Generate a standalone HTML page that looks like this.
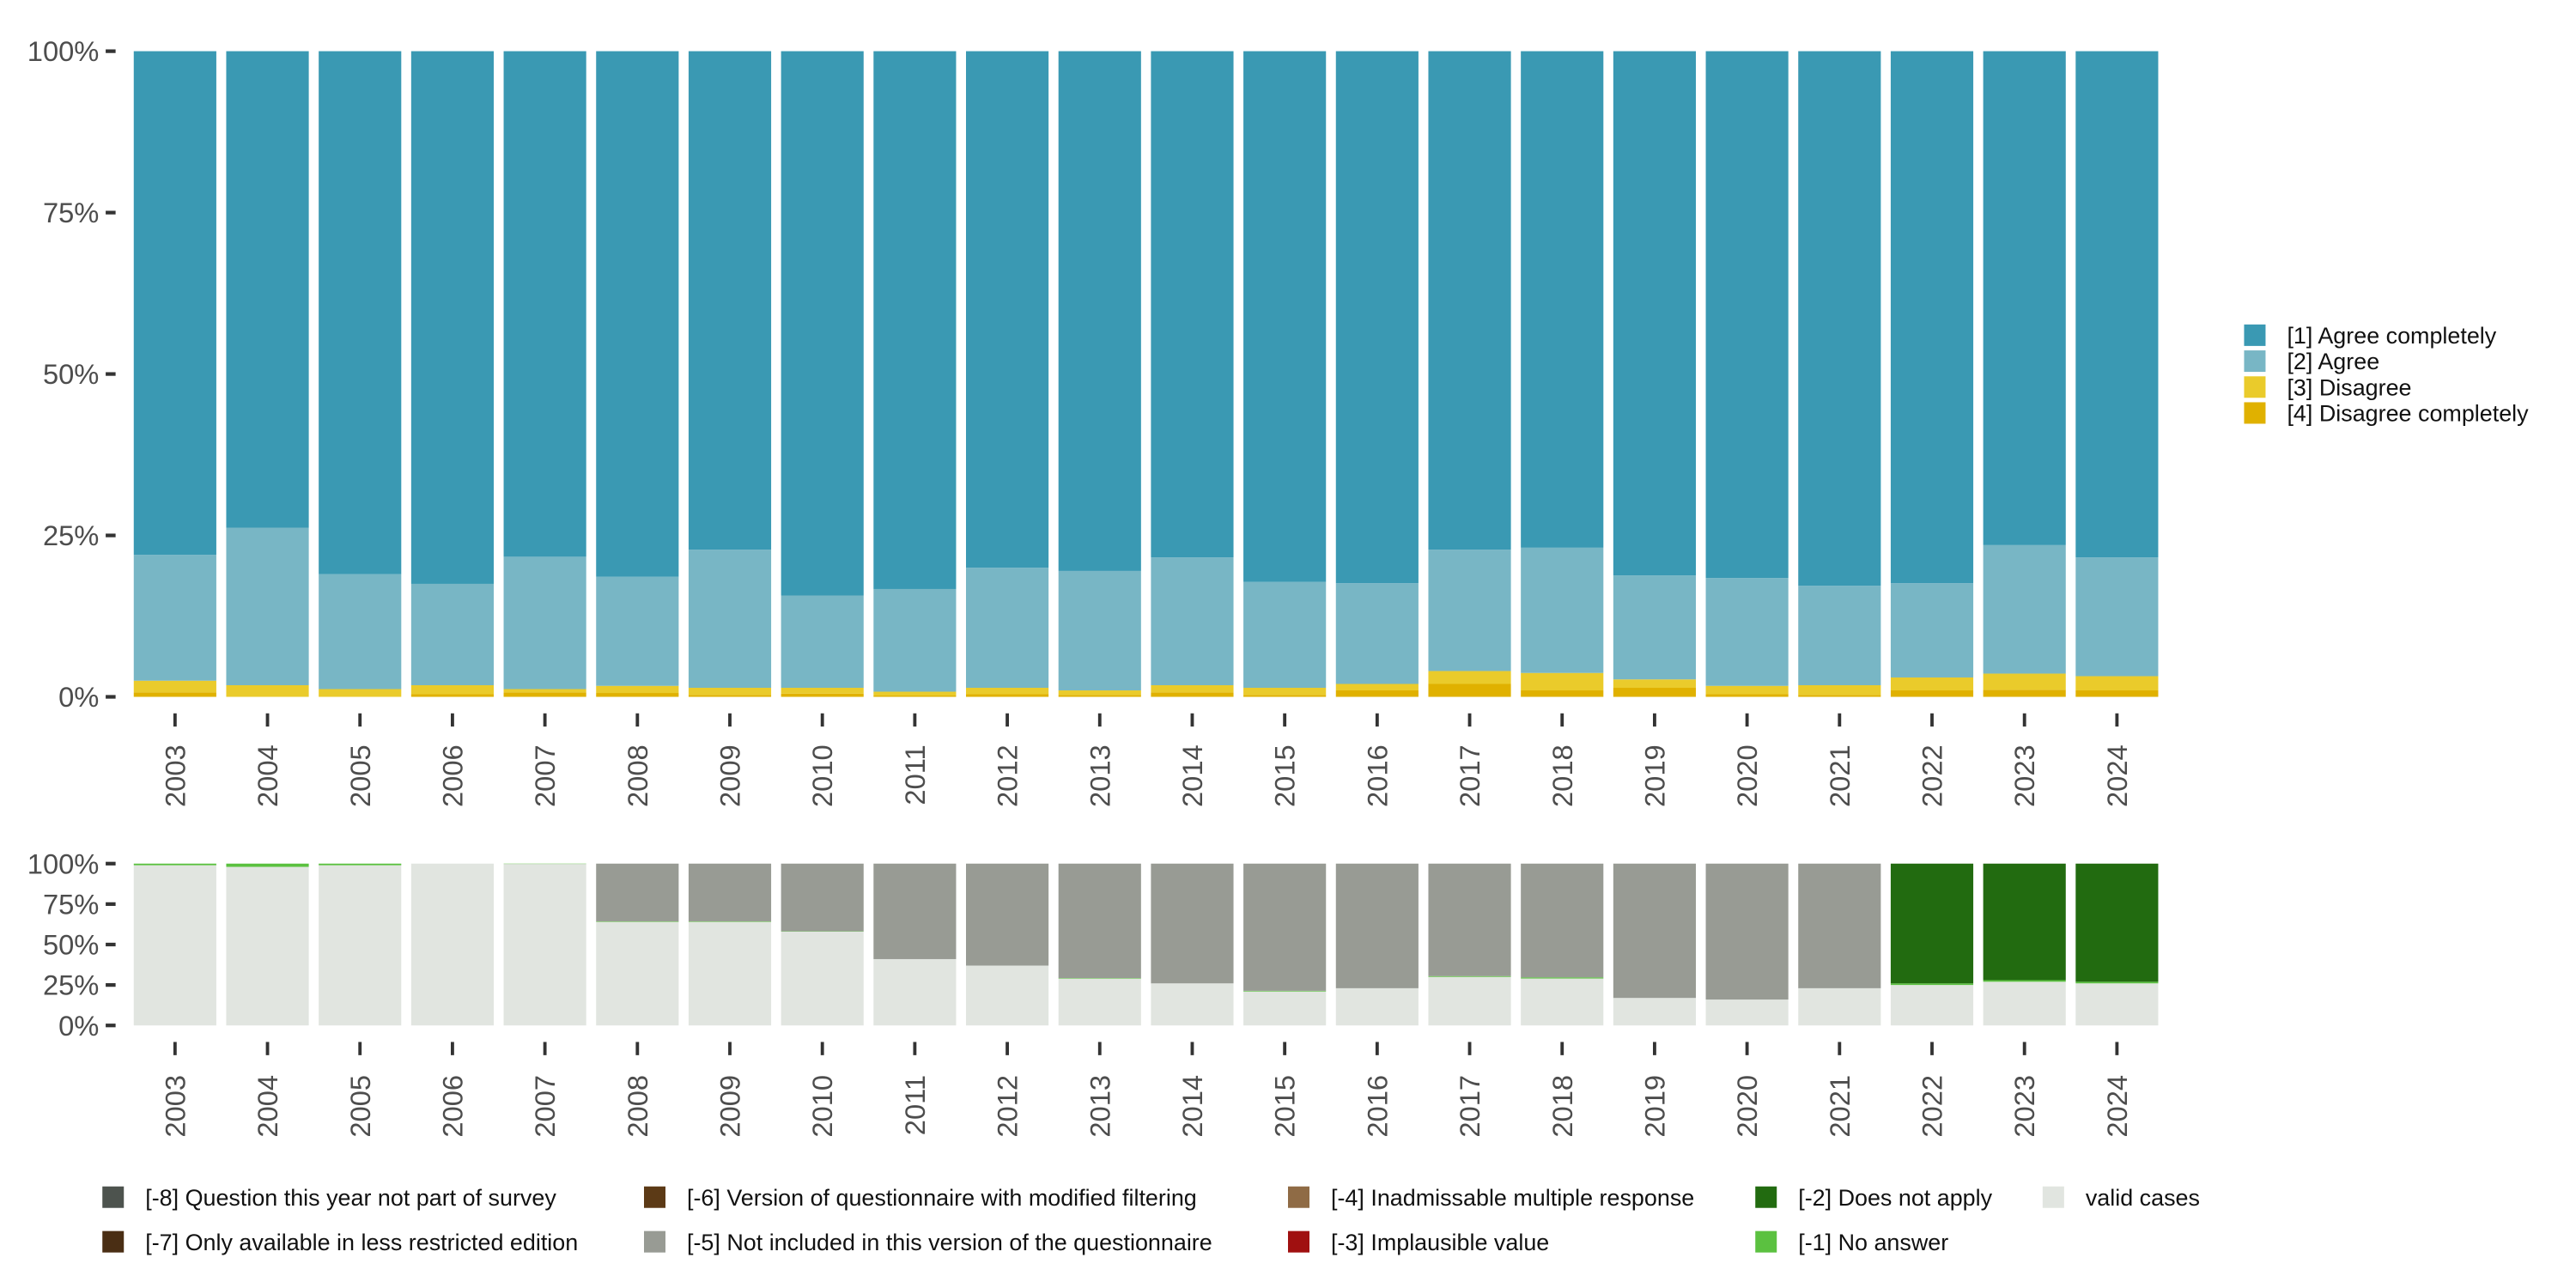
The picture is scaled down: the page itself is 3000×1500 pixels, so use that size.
<!DOCTYPE html>
<html><head><meta charset="utf-8"><style>
html,body{margin:0;padding:0;background:#fff}
svg{display:block}
text{font-family:"Liberation Sans","DejaVu Sans",sans-serif}
</style></head><body>
<svg id="chart" xmlns="http://www.w3.org/2000/svg" width="3000" height="1500" viewBox="0 0 1560 780">
<g id="topPanel"></g>
<g id="botPanel"></g>
<g id="legR"></g>
<g id="legB"></g>
</svg>
<script>
const years = ["2003","2004","2005","2006","2007","2008","2009","2010","2011","2012","2013","2014","2015","2016","2017","2018","2019","2020","2021","2022","2023","2024"];
// top panel (percent)
const disagreeCompletely = [0.7,0,0,0.4,0.7,0.6,0.3,0.5,0.2,0.4,0.3,0.7,0.3,1.0,2.0,1.0,1.4,0.4,0.3,1.0,1.1,1.0];
const disagreeTotal = [2.5,1.8,1.2,1.8,1.2,1.7,1.4,1.4,0.8,1.4,1.0,1.8,1.4,2.0,4.0,3.7,2.7,1.7,1.8,3.0,3.6,3.2];
const agreeTop = [22,26.2,19,17.5,21.7,18.6,22.8,15.7,16.7,20,19.5,21.6,17.8,17.6,22.8,23.1,18.8,18.4,17.2,17.6,23.5,21.6];
// bottom panel (percent)
const validCases = [99,98,99,100,99.8,64,64,58,41,37,29,26,21,23,30,29,17,16,23,25,27,26];
const noAnswer = [1,2,1,0,0.2,0.3,0.3,0.2,0,0,0.3,0,0.4,0,0.5,0.7,0,0,0,1,1,1];
const notIncluded = [0,0,0,0,0,1,1,1,1,1,1,1,1,1,1,1,1,1,1,0,0,0];
const yTicks = [0,25,50,75,100];
const yTickLabels = ["0%","25%","50%","75%","100%"];

const NS="http://www.w3.org/2000/svg";
function mk(tag,attrs,parent){const e=document.createElementNS(NS,tag);for(const k in attrs)e.setAttribute(k,attrs[k]);parent.appendChild(e);return e;}
const x0=81, step=56, bw=50;
const xPos=i=>x0+i*step;
const yTop=v=>422-v*(391/100);
const yBot=v=>621-v*(98/100);
const topG=document.getElementById('topPanel'), botG=document.getElementById('botPanel');

function axis(g,yf,yearY,tickY1,tickY2,pfx){
  yTicks.forEach((t,i)=>{
    const l=mk('line',{x1:64,x2:70,y1:yf(t),y2:yf(t),stroke:'#333','stroke-width':2.2},g);
    
    
    const tx=mk('text',{x:60,y:yf(t)+6,'text-anchor':'end','font-size':17,fill:'#4d4d4d'},g);
    tx.textContent=yTickLabels[i];
    
    
  });
  years.forEach((y,i)=>{
    const cx=xPos(i)+bw/2;
    const l=mk('line',{x1:cx,x2:cx,y1:tickY1,y2:tickY2,stroke:'#333','stroke-width':2},g);
    
    
    const tx=mk('text',{x:0,y:0,'text-anchor':'end','font-size':17,fill:'#4d4d4d',transform:`translate(${cx+6},${yearY}) rotate(-90)`},g);
    tx.textContent=y;
    
    
  });
}
function seg(g,i,yf,a,b,color,name){
  if(b-a<=0)return;
  const r=mk('rect',{x:xPos(i),y:yf(b),width:bw,height:yf(a)-yf(b),fill:color},g);
  
  
}
years.forEach((y,i)=>{
  seg(topG,i,yTop,0,disagreeCompletely[i],'#e0b100','bar-disagree-completely-'+y);
  seg(topG,i,yTop,disagreeCompletely[i],disagreeTotal[i],'#eacb2b','bar-disagree-'+y);
  seg(topG,i,yTop,disagreeTotal[i],agreeTop[i],'#78b6c5','bar-agree-'+y);
  seg(topG,i,yTop,agreeTop[i],100,'#3a99b3','bar-agree-completely-'+y);
  const v=validCases[i], na=noAnswer[i];
  seg(botG,i,yBot,0,v,'#e1e5e0','bar-valid-'+y);
  seg(botG,i,yBot,v,Math.min(100,v+na),'#5bc140','bar-no-answer-'+y);
  if(v+na<100) seg(botG,i,yBot,v+na,100,notIncluded[i]?'#989b94':'#226b10',(notIncluded[i]?'bar-not-included-':'bar-does-not-apply-')+y);
});
axis(topG,yTop,451,432,440,'top-');
axis(botG,yBot,651,631,639,'bottom-');

const legR=document.getElementById('legR');
[["[1] Agree completely","#3a99b3"],["[2] Agree","#78b6c5"],["[3] Disagree","#eacb2b"],["[4] Disagree completely","#e0b100"]].forEach((d,i)=>{
  const y=203+i*15.7;
  const r=mk('rect',{x:1359,y:y-6.5,width:13,height:13,fill:d[1]},legR);
  
  
  const t=mk('text',{x:1385,y:y+5,'font-size':14,fill:'#111'},legR);
  t.textContent=d[0];
  
  
});
const legB=document.getElementById('legB');
const bItems=[[62,725,"#4d534e","[-8] Question this year not part of survey"],[62,752,"#4a2e14","[-7] Only available in less restricted edition"],
[390,725,"#5c3a16","[-6] Version of questionnaire with modified filtering"],[390,752,"#989b94","[-5] Not included in this version of the questionnaire"],
[780,725,"#8f6b45","[-4] Inadmissable multiple response"],[780,752,"#a01010","[-3] Implausible value"],
[1063,725,"#226b10","[-2] Does not apply"],[1063,752,"#5bc140","[-1] No answer"],[1237,725,"#e1e5e0","valid cases"]];
bItems.forEach(d=>{
  const r=mk('rect',{x:d[0],y:d[1]-6.5,width:13,height:13,fill:d[2]},legB);
  
  
  const t=mk('text',{x:d[0]+26,y:d[1]+5,'font-size':14,fill:'#111'},legB);
  t.textContent=d[3];
  
  
});
</script>
</body></html>
